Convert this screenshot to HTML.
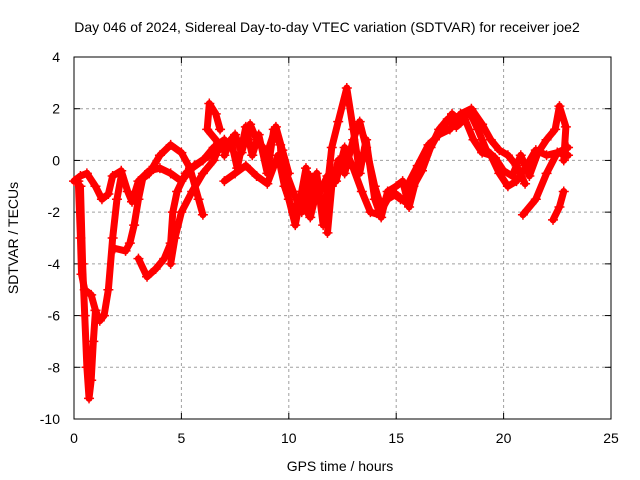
<!DOCTYPE html>
<html><head><meta charset="utf-8"><style>
body{margin:0;background:#fff}
svg{display:block}
text{font-family:"Liberation Sans",sans-serif;font-size:14px;fill:#000}
</style></head><body>
<svg id="chart" width="640" height="480">
<text x="327" y="32" text-anchor="middle">Day 046 of 2024, Sidereal Day-to-day VTEC variation (SDTVAR) for receiver joe2</text>
<g id="grid"></g>
<g id="axes"></g>
<g id="marks"></g>
<text x="340" y="471" text-anchor="middle">GPS time / hours</text>
<text transform="translate(18,238) rotate(-90)" text-anchor="middle">SDTVAR / TECUs</text>
</svg>
<script>
const xTicks=[0,5,10,15,20,25];
const yTicks=[-10,-8,-6,-4,-2,0,2,4];
const track1=[[0,-0.8],[0.3,-0.6],[0.6,-0.5],[1,-1],[1.3,-1.5],[1.6,-1.3],[1.8,-0.6],[2.2,-0.4],[2.5,-1.2],[2.7,-1.6],[3,-0.8],[3.5,-0.4],[4,-0.3],[4.5,-0.5],[5,-0.8],[5.5,-0.3],[6,0],[6.5,0.5],[7,0.8]];
const track2=[[0.2,-0.8],[0.3,-3],[0.35,-4.4],[0.5,-5],[0.8,-5.2],[1,-5.8],[1.2,-6.2],[1.4,-6],[1.6,-5],[1.8,-3],[2,-1.5],[2.2,-0.6]];
const track3=[[0.3,-1],[0.4,-4],[0.5,-6],[0.6,-8],[0.7,-9.2],[0.8,-8.5],[0.9,-7],[1,-5.8]];
const track4=[[1.9,-3.4],[2.4,-3.5],[2.6,-3.2],[2.8,-2.5],[3,-1.5],[3.2,-0.7],[3.5,-0.5],[4,0.2],[4.5,0.6],[5,0.3],[5.4,-0.3],[5.8,-1.5],[6,-2.1]];
const track5=[[3,-3.8],[3.4,-4.5],[3.8,-4.2],[4.2,-3.8],[4.5,-3.2],[4.6,-2],[4.8,-1.2],[5.2,-0.5],[5.6,-0.2],[6.5,0.3],[7,0.5]];
const track6=[[4.5,-4],[4.7,-3],[5,-2],[5.5,-1.2],[6,-0.5],[6.5,0],[6.8,0.6],[6.2,1.2],[6.3,2.2],[6.6,1.8],[6.8,1.2]];
const track7=[[7,0.2],[7.3,0.8],[7.6,-0.3],[8,1.3],[8.3,0.2],[8.6,1],[9,-0.5],[9.3,1.2],[9.6,0.6],[9.8,-1],[10,-1.5],[10.3,-2.5],[10.6,-1.2],[10.8,-0.3],[11,-1.8],[11.3,-0.5],[11.6,-2.5],[11.8,-1],[12,0.5],[12.3,1.5],[12.7,2.8],[13,1.2],[13.3,-0.5],[13.6,0.8],[14,-1.5],[14.3,-2.2],[14.6,-1.2],[15,-1],[15.3,-0.8],[15.6,-1.8],[16,-0.5],[16.4,0.2],[16.8,0.8],[17.2,1.3],[17.6,1.8],[18,1.5],[18.4,1.9],[18.8,1.2],[19.2,0.4],[19.6,0.1],[20,-0.4],[20.4,-0.6],[20.8,0.2],[21.2,-0.6],[21.6,0.3],[22,0.8],[22.4,1.2],[22.6,2.1],[22.9,1.3],[22.8,0]];
const track8=[[9.8,-0.3],[10.2,-1.2],[10.6,-2],[11,-0.6],[11.4,-1.3],[11.8,-0.6],[12.2,-0.8],[12.6,0.5],[13,-0.3],[13.4,-1.2],[13.8,-2],[14.2,-2.1],[14.6,-1.5],[15,-1.3],[15.4,-1.6],[15.8,-1],[16.2,-0.4],[16.6,0.5],[17,1.2],[17.4,1.6],[17.8,1.3],[18.2,1.6],[18.6,0.8],[19,0.3],[19.4,0.2],[19.8,-0.5],[20.2,-1],[20.6,-0.8],[21,-0.3],[21.5,0.4],[22,0.2],[22.5,0.3],[23,0.2]];
const track9=[[20.9,-2.1],[21.5,-1.5],[22,-0.5],[22.5,0.3],[23,0.5]];
const track10=[[22.3,-2.3],[22.6,-1.8],[22.8,-1.2]];
const track11=[[7,0.5],[7.5,1],[7.8,0.3],[8.2,1.4],[8.5,0.8],[9,0.3],[9.4,1.3],[9.7,0.4],[10,-0.5]];
const track12=[[7,-0.8],[7.5,-0.5],[8,-0.2],[8.5,-0.6],[9,-0.9],[9.5,0.2],[9.8,-1],[10.2,-2],[10.5,-1.5],[11,-2.2],[11.3,-1.2]];
const track13=[[11.8,-2.8],[12,-1],[12.3,0],[12.6,-0.5],[13,0.8],[13.3,1.5],[13.6,0.5],[14,-1],[14.3,-1.8],[14.7,-1.2],[15.2,-1.5]];
const track14=[[15.5,-1],[16,-0.2],[16.5,0.6],[17,1],[17.5,1.2],[18,1.8],[18.5,2],[19,1.4],[19.4,0.8],[19.8,0.4],[20.2,0.2],[20.6,-0.2],[21,-0.9]];
const tracks=[track1,track2,track3,track4,track5,track6,track7,track8,track9,track10,track11,track12,track13,track14];
const NS="http://www.w3.org/2000/svg";
const X0=74,X1=611,Y0=419,Y1=57;
function xs(h){return X0+(h-0)/25*(X1-X0);}
function ys(v){return Y0-(v+10)/14*(Y0-Y1);}
function mk(tag,a,p){const e=document.createElementNS(NS,tag);for(const k in a)e.setAttribute(k,a[k]);p.appendChild(e);return e;}
const grid=document.getElementById('grid'),axes=document.getElementById('axes'),marks=document.getElementById('marks');
xTicks.forEach(t=>{const x=xs(t);
 if(t>0&&t<25){const g=mk('line',{x1:x,x2:x,y1:Y1,y2:Y0,stroke:'#a0a0a0','stroke-dasharray':'3,3'},grid);
 
 }
 mk('line',{x1:x,x2:x,y1:Y0,y2:Y0-6,stroke:'#000'},axes);mk('line',{x1:x,x2:x,y1:Y1,y2:Y1+6,stroke:'#000'},axes);
 const tx=mk('text',{x:x,y:Y0+24,'text-anchor':'middle'},axes);tx.textContent=t;
 
 });
yTicks.forEach(t=>{const y=ys(t);
 if(t>-10&&t<4){const g=mk('line',{x1:X0,x2:X1,y1:y,y2:y,stroke:'#a0a0a0','stroke-dasharray':'3,3'},grid);
 
 }
 mk('line',{x1:X0,x2:X0+6,y1:y,y2:y,stroke:'#000'},axes);mk('line',{x1:X1,x2:X1-6,y1:y,y2:y,stroke:'#000'},axes);
 const tx=mk('text',{x:X0-14,y:y+5,'text-anchor':'end'},axes);tx.textContent=t;
 
 });
mk('rect',{x:X0,y:Y1,width:X1-X0,height:Y0-Y1,fill:'none',stroke:'#000'},axes);
tracks.forEach((tr,i)=>{
 const pl=mk('polyline',{points:tr.map(p=>xs(p[0])+','+ys(p[1])).join(' '),fill:'none',stroke:'#ff0000','stroke-width':7,'stroke-linejoin':'round','stroke-linecap':'round'},marks);
 
 
 tr.forEach(p=>{const x=xs(p[0]),y=ys(p[1]);
  const m=mk('path',{d:`M${x-5},${y}H${x+5}M${x},${y-5}V${y+5}`,stroke:'#ff0000','stroke-width':1.5},marks);
  
  });
});
</script>
</body></html>
